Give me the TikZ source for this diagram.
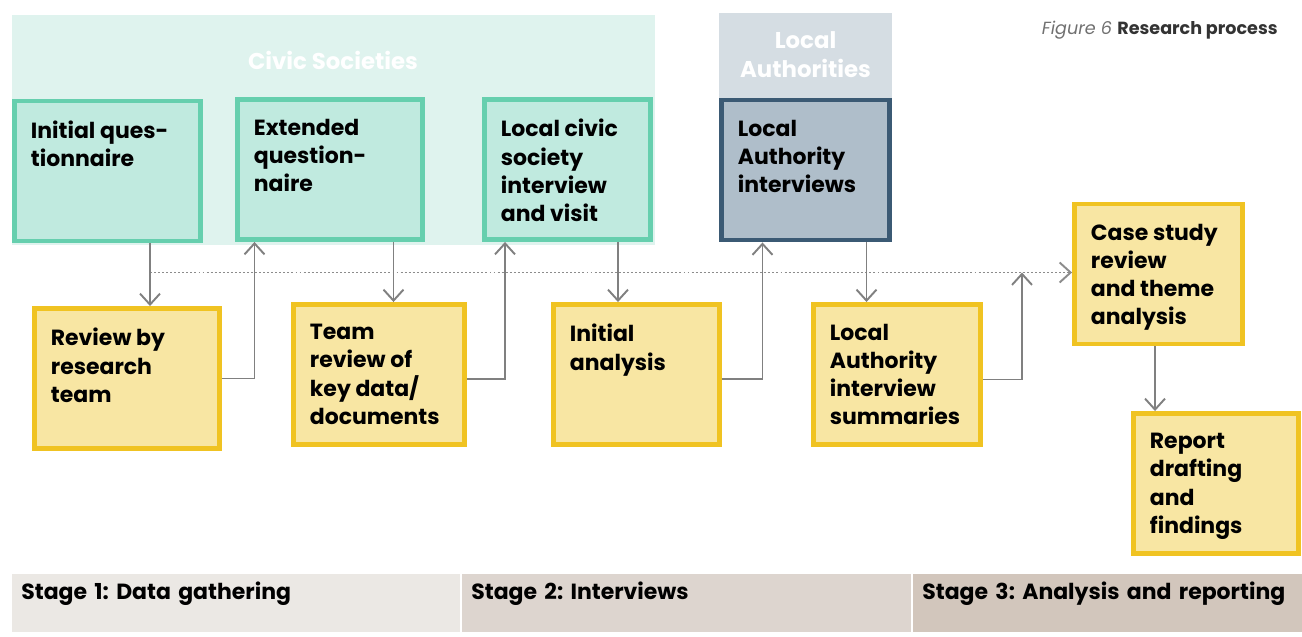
\documentclass[tikz,border=0pt]{standalone}
\usepackage{fontspec}
\setmainfont{Poppins}
\usepackage{xcolor}
\usetikzlibrary{arrows.meta}
\definecolor{civicbg}{HTML}{DFF3EE}
\definecolor{civicline}{HTML}{66CFAE}
\definecolor{civicfill}{HTML}{C0EADF}
\definecolor{labg}{HTML}{D5DDE3}
\definecolor{laline}{HTML}{3B5A74}
\definecolor{lafill}{HTML}{AFBECA}
\definecolor{yline}{HTML}{F0C322}
\definecolor{yfill}{HTML}{F8E6A3}
\definecolor{arrgray}{HTML}{808080}
\definecolor{dotgray}{HTML}{8C8C8C}
\definecolor{stA}{HTML}{EBE8E4}
\definecolor{stB}{HTML}{DDD5CF}
\definecolor{stC}{HTML}{D2C6BC}
\definecolor{figgray}{HTML}{707070}
\definecolor{figdark}{HTML}{333333}
\frenchspacing

\begin{document}
\begin{tikzpicture}
\tikzstyle{every node}=[inner sep=0pt];
\tikzstyle{cbox}=[draw=civicline,fill=civicfill,line width=2.8pt,minimum height=2.8cm];
\tikzstyle{lbox}=[draw=laline,fill=lafill,line width=2.8pt,minimum height=2.8cm];
\tikzstyle{ybox}=[draw=yline,fill=yfill,line width=2.8pt,minimum height=2.8cm];
\tikzstyle{txt}=[anchor=north west,align=left,font=\bfseries\fontsize{12.5}{16}\selectfont];
\tikzstyle{head}=[white,align=center,font=\bfseries\fontsize{13}{16.5}\selectfont];
\tikzstyle{stage}=[anchor=north west,align=left,inner xsep=0.18cm,minimum height=1.16cm,text height=0.5cm,text depth=0.66cm,font=\bfseries\fontsize{12.5}{14}\selectfont];
\tikzstyle{arr}=[arrgray,line width=1.1pt,-{Straight Barb[length=2.2mm,width=4mm]}];
\tikzstyle{dots}=[dotgray,line width=1.1pt,dash pattern=on 1.1pt off 1.2pt,-{Straight Barb[length=2.2mm,width=4mm]}];
\useasboundingbox (0,0) rectangle (26.04,-12.74);
\fill[civicbg] (0.24,-0.3) rectangle (13.1,-4.9);
\fill[labg] (14.38,-0.26) rectangle (17.84,-2.0);
\node[head](civic) at (6.66,-1.2) {Civic Societies};
\node[head](lahead) at (16.11,-1.09) {Local\\Authorities};
\node[anchor=east,font=\fontsize{10}{12}\selectfont](fig) at (25.56,-0.6) {\color{figgray}\itshape Figure 6 \color{figdark}\upshape\bfseries Research process};
\node[cbox,minimum width=3.72cm](q1) at (2.15,-3.42) {};
\node[cbox,minimum width=3.70cm](q2) at (6.6,-3.39) {};
\node[cbox,minimum width=3.32cm](q3) at (11.35,-3.39) {};
\node[lbox,minimum width=3.36cm](la) at (16.11,-3.40) {};
\node[ybox,minimum width=3.70cm](r1) at (2.54,-7.57) {};
\node[ybox,minimum width=3.42cm](r2) at (7.58,-7.49) {};
\node[ybox,minimum width=3.32cm](r3) at (12.73,-7.49) {};
\node[ybox,minimum width=3.34cm](r4) at (17.94,-7.49) {};
\node[ybox,minimum width=3.36cm](r5) at (23.17,-5.48) {};
\node[ybox,minimum width=3.30cm](r6) at (24.32,-9.67) {};
\node[txt](tq1) at ([shift={(0.37,-0.44)}]q1.north west) {Initial ques-\\tionnaire};
\node[txt](tq2) at ([shift={(0.37,-0.44)}]q2.north west) {Extended\\question-\\naire};
\node[txt](tq3) at ([shift={(0.37,-0.44)}]q3.north west) {Local civic\\society\\interview\\and visit};
\node[txt](tla) at ([shift={(0.37,-0.44)}]la.north west) {Local\\Authority\\interviews};
\node[txt](tr1) at ([shift={(0.37,-0.44)}]r1.north west) {Review by\\research\\team};
\node[txt](tr2) at ([shift={(0.37,-0.44)}]r2.north west) {Team\\review of\\key data/\\documents};
\node[txt](tr3) at ([shift={(0.37,-0.44)}]r3.north west) {Initial\\analysis};
\node[txt](tr4) at ([shift={(0.37,-0.44)}]r4.north west) {Local\\Authority\\interview\\summaries};
\node[txt](tr5) at ([shift={(0.37,-0.44)}]r5.north west) {Case study\\review\\and theme\\analysis};
\node[txt](tr6) at ([shift={(0.37,-0.44)}]r6.north west) {Report\\drafting\\and\\findings};
\node[stage,fill=stA,text width=8.6cm](s1) at (0.24,-11.48) {Stage 1: Data gathering};
\node[stage,fill=stB,text width=8.62cm](s2) at (9.24,-11.48) {Stage 2: Interviews};
\node[stage,fill=stC,text width=7.42cm](s3) at (18.26,-11.48) {Stage 3: Analysis and reporting};
\coordinate(join) at (20.44,-5.45);
\coordinate(dstart) at ([xshift=0.85cm]q1.south |- join);
\draw[dots](dstart)--(dstart -| r5.west);
\draw[arr]([xshift=0.85cm]q1.south)--([xshift=0.85cm]q1.south |- r1.north);
\draw[arr](r1.east)-|([xshift=-1.51cm]q2.south);
\draw[arr]([xshift=1.27cm]q2.south)--([xshift=1.27cm]q2.south |- r2.north);
\draw[arr]([yshift=-0.09cm]r2.east)-|([xshift=-1.25cm]q3.south);
\draw[arr]([xshift=1.01cm]q3.south)--([xshift=1.01cm]q3.south |- r3.north);
\draw[arr]([yshift=-0.09cm]r3.east)-|([xshift=-0.86cm]la.south);
\draw[arr]([xshift=1.22cm]la.south)--([xshift=1.22cm]la.south |- r4.north);
\draw[arr]([yshift=-0.1cm]r4.east)-|(join);
\draw[arr]([xshift=-0.07cm]r5.south)--([xshift=-0.07cm]r5.south |- r6.north);
\end{tikzpicture}
\end{document}
